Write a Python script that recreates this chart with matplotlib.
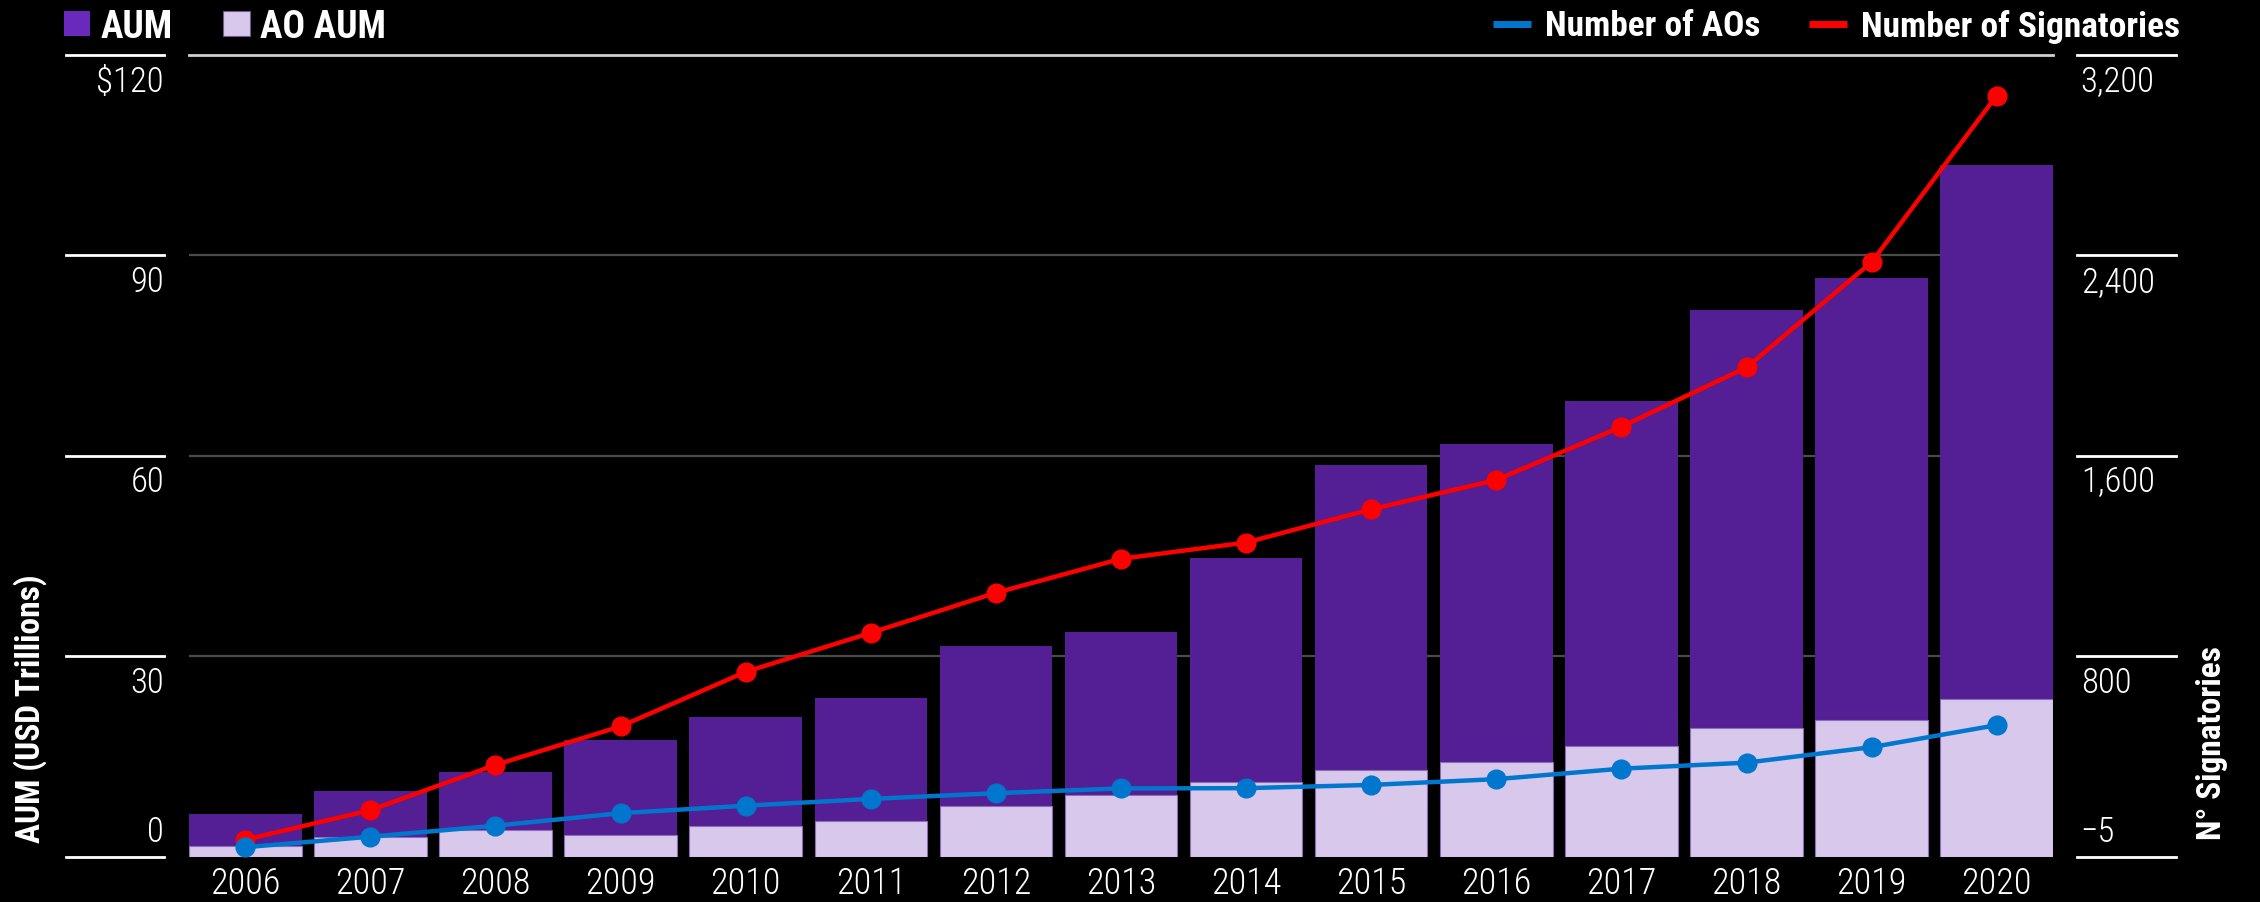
import os
import matplotlib
matplotlib.use("Agg")
import numpy as np
import matplotlib.pyplot as plt
from matplotlib import font_manager as fm
from matplotlib.transforms import blended_transform_factory, offset_copy
from matplotlib.patches import Rectangle
from matplotlib.lines import Line2D

# ---------------- data ----------------
years = [str(y) for y in range(2006, 2021)]
aum = [6.4, 9.8, 12.7, 17.5, 20.9, 23.8, 31.5, 33.7, 44.7, 58.7, 61.7, 68.2, 81.8, 86.6, 103.6]
ao_aum = [1.6, 2.9, 4.0, 3.25, 4.6, 5.3, 7.55, 9.2, 11.2, 12.95, 14.2, 16.6, 19.2, 20.4, 23.6]
signatories = [63, 181, 362, 516, 734, 890, 1050, 1186, 1251, 1384, 1501, 1714, 1951, 2372, 3038]
num_aos = [33, 75, 119, 169, 199, 226, 249, 268, 269, 282, 305, 347, 371, 433, 521]

left_ticks = [0, 30, 60, 90, 120]
left_labels = ["0", "30", "60", "90", "$120"]
right_ticks = list(np.linspace(-5, 3200, 5))
right_labels = ["\u22125", "800", "1,600", "2,400", "3,200"]

legend_left = ["AUM", "AO AUM"]
legend_right = ["Number of AOs", "Number of Signatories"]
ylabel_left = "AUM (USD Trillions)"
ylabel_right = "N\u00b0 Signatories"

# ---------------- fonts: look for a condensed face ----------------
def find_condensed(weight):
    for fam in ["Roboto Condensed", "Liberation Sans Narrow", "Open Sans Condensed",
                "Noto Sans", "DejaVu Sans", "Roboto", "Open Sans", "Lato", "Inter"]:
        try:
            p = fm.findfont(fm.FontProperties(family=fam, stretch="condensed", weight=weight),
                            fallback_to_default=False)
        except Exception:
            continue
        n = os.path.basename(p).lower()
        if "condensed" in n or "narrow" in n or "cond" in n:
            return fam, True
    return "Liberation Sans", False

FAM_R, COND_R = find_condensed("light")
FAM_B, COND_B = find_condensed("bold")
plt.rcParams["font.family"] = [FAM_R, "DejaVu Sans"]
plt.rcParams["font.stretch"] = "condensed"
SC_R = 1.0 if COND_R else 0.8
SC_B = 1.0 if COND_B else 0.8

BG = "#000000"
C_AUM = "#541E94"
C_AUM_LEG = "#6A28BC"
C_AO = "#D8C8EC"
C_BLUE = "#0077CC"
C_RED = "#FF0000"
W, H = 2260, 902

def fx(px):
    return px / W

def fy(py):
    return 1 - py / H

fig = plt.figure(figsize=(W / 100, H / 100), dpi=100, facecolor=BG)
ax_l, ax_r, ax_t, ax_b = 189, 2053, 55, 856.7
ax = fig.add_axes([fx(ax_l), fy(ax_b), fx(ax_r) - fx(ax_l), (ax_b - ax_t) / H])
ax.set_facecolor(BG)
ax2 = ax.twinx()

x = np.arange(len(years))
ax.set_xlim(-0.45, len(years) - 0.55)
ax.set_ylim(left_ticks[0], left_ticks[-1])
ax2.set_ylim(right_ticks[0], right_ticks[-1])

for a in (ax, ax2):
    for s in a.spines.values():
        s.set_visible(False)
    a.set_yticks([])

# gridlines
for v in left_ticks[1:-1]:
    ax.axhline(v, color="#4a4a4a", lw=1.6, zorder=0.5)
ax.axhline(left_ticks[-1], color="#d0d0d0", lw=2, zorder=0.5, clip_on=False)

# bars
ax.bar(x, aum, width=0.9, color=C_AUM, zorder=2)
ax.bar(x, ao_aum, width=0.9, color=C_AO, edgecolor="#8a6fb5", linewidth=0.8, zorder=3)

# lines
ax2.plot(x, signatories, color=C_RED, lw=3.2, marker="o", ms=13.5, zorder=4)
ax2.plot(x, num_aos, color=C_BLUE, lw=3.2, marker="o", ms=13.5, zorder=5)

TICK_KW = dict(family=[FAM_R, "DejaVu Sans"], fontweight="light", color="white")
BOLD_KW = dict(family=[FAM_B, "DejaVu Sans"], fontweight="bold", color="white")

# x tick labels
ax.set_xticks(x)
ax.set_xticklabels(years, fontsize=26 * SC_R, **TICK_KW)
ax.tick_params(axis="x", length=0, pad=7)

# left margin ticks and labels
trl = blended_transform_factory(ax.transAxes, ax.transData)
xl0 = (66 - ax_l) / (ax_r - ax_l)
xl1 = (164 - ax_l) / (ax_r - ax_l)
for v, lab in zip(left_ticks, left_labels):
    ax.plot([xl0, xl1], [v, v], transform=trl, color="white", lw=2, clip_on=False)
    if v == left_ticks[0]:
        tr = offset_copy(trl, fig=fig, x=0, y=8, units="dots")
        ax.text(xl1, v, lab, transform=tr, ha="right", va="bottom", fontsize=25 * SC_R, **TICK_KW)
    else:
        tr = offset_copy(trl, fig=fig, x=0, y=-10, units="dots")
        ax.text(xl1, v, lab, transform=tr, ha="right", va="top", fontsize=25 * SC_R, **TICK_KW)

# right margin ticks and labels
trr = blended_transform_factory(ax2.transAxes, ax2.transData)
xr0 = (2077 - ax_l) / (ax_r - ax_l)
xr1 = (2176 - ax_l) / (ax_r - ax_l)
for v, lab in zip(right_ticks, right_labels):
    ax2.plot([xr0, xr1], [v, v], transform=trr, color="white", lw=2, clip_on=False)
    if v == right_ticks[0]:
        tr = offset_copy(trr, fig=fig, x=0, y=8, units="dots")
        ax2.text(xr0 + 0.002, v, lab, transform=tr, ha="left", va="bottom", fontsize=25 * SC_R, **TICK_KW)
    else:
        tr = offset_copy(trr, fig=fig, x=0, y=-10, units="dots")
        ax2.text(xr0 + 0.002, v, lab, transform=tr, ha="left", va="top", fontsize=25 * SC_R, **TICK_KW)

# axis titles
fig.text(fx(30), fy(843), ylabel_left, rotation=90, ha="center", va="bottom",
         fontsize=24 * SC_B, **BOLD_KW)
fig.text(fx(2212), fy(840), ylabel_right, rotation=90, ha="center", va="bottom",
         fontsize=24 * SC_B, **BOLD_KW)

# legends (top)
leg_y = 23.5
fig.patches.append(Rectangle((fx(64), fy(36)), fx(26), 25 / H, transform=fig.transFigure,
                             facecolor=C_AUM_LEG, edgecolor="none"))
fig.text(fx(101), fy(leg_y), legend_left[0], ha="left", va="center_baseline",
         fontsize=27 * SC_B, **BOLD_KW)
fig.patches.append(Rectangle((fx(223), fy(36)), fx(27), 25 / H, transform=fig.transFigure,
                             facecolor=C_AO, edgecolor="#6f5a90", linewidth=0.8))
fig.text(fx(260), fy(leg_y), legend_left[1], ha="left", va="center_baseline",
         fontsize=27 * SC_B, **BOLD_KW)

fig.lines.append(Line2D([fx(1493), fx(1531)], [fy(24), fy(24)], transform=fig.transFigure,
                        color=C_BLUE, lw=5, solid_capstyle="butt"))
fig.text(fx(1545), fy(leg_y), legend_right[0], ha="left", va="center_baseline",
         fontsize=25.5 * SC_B, **BOLD_KW)
fig.lines.append(Line2D([fx(1809), fx(1847)], [fy(24), fy(24)], transform=fig.transFigure,
                        color=C_RED, lw=5, solid_capstyle="butt"))
fig.text(fx(1861), fy(leg_y), legend_right[1], ha="left", va="center_baseline",
         fontsize=25.5 * SC_B, **BOLD_KW)

fig.savefig("out.png", dpi=100, facecolor=BG)
